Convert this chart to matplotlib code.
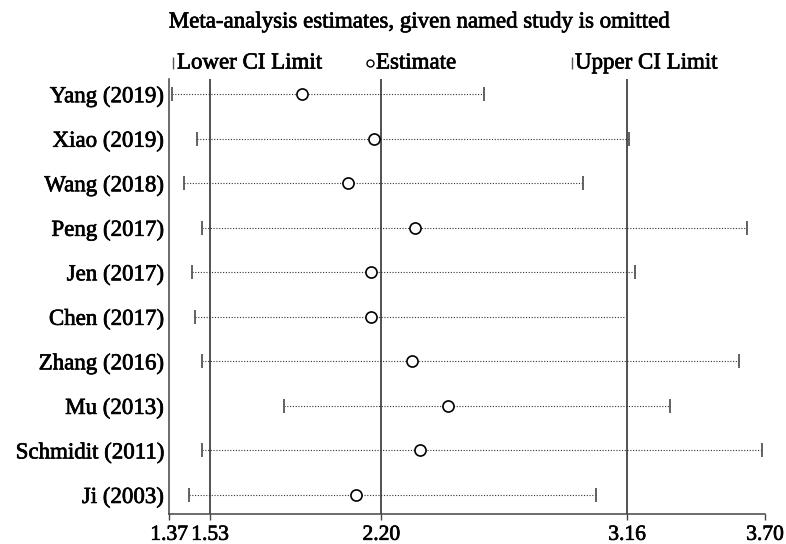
import numpy as np
import matplotlib
matplotlib.use("Agg")
import matplotlib.pyplot as plt
import matplotlib.patheffects as pe
from matplotlib.lines import Line2D

plt.rcParams['font.family'] = ['Liberation Serif', 'DejaVu Serif']

studies = ["Yang (2019)", "Xiao (2019)", "Wang (2018)", "Peng (2017)", "Jen (2017)",
           "Chen (2017)", "Zhang (2016)", "Mu (2013)", "Schmidit (2011)", "Ji (2003)"]
estimate = [1.89, 2.17, 2.07, 2.33, 2.16, 2.16, 2.32, 2.46, 2.35, 2.10]
lower_ci = [1.38, 1.48, 1.43, 1.50, 1.46, 1.47, 1.50, 1.82, 1.50, 1.45]
upper_ci = [2.60, 3.17, 2.99, 3.63, 3.19, 3.16, 3.60, 3.33, 3.69, 3.04]
ref_lines = [1.53, 2.20, 3.16]
xticks = [1.37, 1.53, 2.20, 3.16, 3.70]
xtick_labels = ["1.37", "1.53", "2.20", "3.16", "3.70"]

fs = 16.5
# thicken the text a bit, the reference is a heavy rendering of Times
heavy = [pe.withStroke(linewidth=0.5, foreground='black')]

fig = plt.figure(figsize=(7.86, 5.44), dpi=100)
ax = fig.add_axes([169 / 786, 30 / 544, 596 / 786, 435 / 544])

n = len(studies)
ypos = np.arange(n, 0, -1)

for y, lo, est, hi in zip(ypos, lower_ci, estimate, upper_ci):
    ax.plot([lo, hi], [y, y], color='#333333', lw=0.8, ls=(0, (1, 1.5)))
    ax.plot([lo, hi], [y, y], ls='none', marker='|', ms=10, mew=1.3, color='#555555')
    ax.plot(est, y, ls='none', marker='o', ms=8, mfc='white', mec='black', mew=1.2, zorder=5)

for v in ref_lines:
    ax.axvline(v, color='#222222', lw=1.1, zorder=1)

ax.set_xlim(1.37, 3.70)
ax.set_ylim(0.57, n + 0.34)
ax.set_xticks(xticks)
ax.set_xticklabels(xtick_labels, fontsize=15.5)
ax.set_yticks(ypos)
ax.set_yticklabels(studies, fontsize=fs)
ax.tick_params(axis='y', length=0, pad=4)
ax.tick_params(axis='x', length=4.5, width=1, pad=4, color='#444444')
for lab in ax.get_xticklabels() + ax.get_yticklabels():
    lab.set_path_effects(heavy)
for s in ['top', 'right']:
    ax.spines[s].set_visible(False)
for s in ['left', 'bottom']:
    ax.spines[s].set_color('#444444')
    ax.spines[s].set_linewidth(1.1)

fig.text(419 / 786, 1 - 22 / 544, "Meta-analysis estimates, given named study is omitted",
         ha='center', va='center', fontsize=fs, path_effects=heavy)

ly = 1 - 63 / 544
fig.add_artist(Line2D([173 / 786], [ly], marker='|', ms=8, mew=1, color='#555555',
                      transform=fig.transFigure))
fig.text(177 / 786, ly, "Lower CI Limit", ha='left', va='center', fontsize=fs, path_effects=heavy)
fig.add_artist(Line2D([370 / 786], [ly], marker='o', ms=5, mfc='white', mec='black', mew=1,
                      transform=fig.transFigure))
fig.text(376 / 786, ly, "Estimate", ha='left', va='center', fontsize=fs, path_effects=heavy)
fig.add_artist(Line2D([572 / 786], [ly], marker='|', ms=8, mew=1, color='#555555',
                      transform=fig.transFigure))
fig.text(575 / 786, ly, "Upper CI Limit", ha='left', va='center', fontsize=fs, path_effects=heavy)

fig.savefig("out.png", dpi=100)
